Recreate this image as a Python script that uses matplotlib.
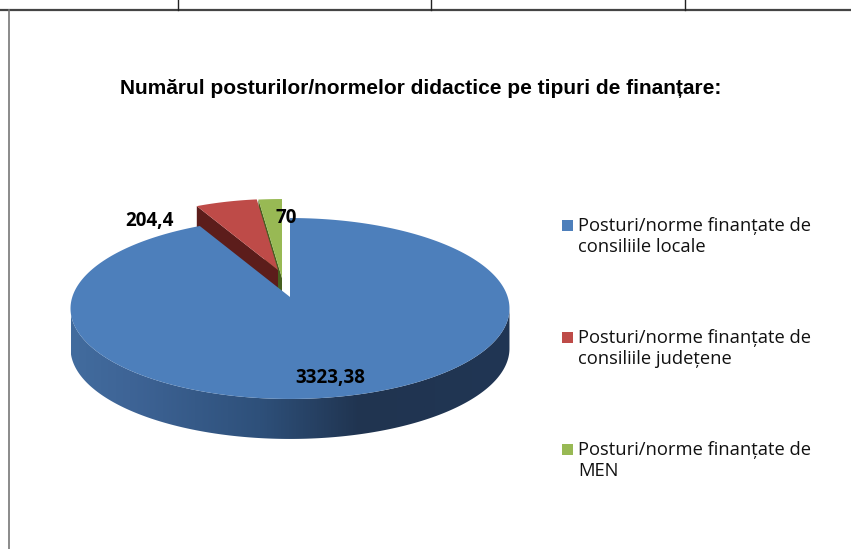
import numpy as np
import matplotlib
matplotlib.use('Agg')
import matplotlib.pyplot as plt
from matplotlib.patches import Polygon, Rectangle

# --- Data ---
title = "Numărul posturilor/normelor didactice pe tipuri de finanțare:"
values = [3323.38, 204.4, 70]
value_labels = ["3323,38", "204,4", "70"]
legend_labels = ["Posturi/norme finanțate de\nconsiliile locale",
                 "Posturi/norme finanțate de\nconsiliile județene",
                 "Posturi/norme finanțate de\nMEN"]

# --- Style ---
face_colors = ['#4D7FBB', '#BE4B48', '#98B954']
wall_colors = [None, '#5C1D1B', '#46601F']
tips = [(290, 297), (278, 270), (282, 278)]   # pixel position of each slice tip
scales = [1.0, 0.9, 1.0]
label_pos = [(330, 378), (149, 221), (286, 218)]
legend_y = [225, 337, 449]
DEPTH = 40
K, A, B = 0.127, 89, 217.7   # perspective of the disc

fig = plt.figure(figsize=(8.51, 5.49), dpi=100)
ax = fig.add_axes([0, 0, 1, 1])
ax.axis('off')


def rim(theta, tip, scale=1.0):
    """Rim points of a slice, theta in degrees clockwise from the top."""
    t = np.radians(theta)
    u, v = np.sin(t), np.cos(t)
    w = 1 + K * v
    return np.column_stack((tip[0] + scale * B * u / w, tip[1] - scale * A * v / w))


# slice angles from the values
fracs = np.array(values) / sum(values)
ends = np.cumsum(fracs) * 360
starts = np.concatenate(([0], ends[:-1]))

# back slices first, the blue one goes over their walls
for i in [2, 1]:
    arc = np.linspace(starts[i], ends[i], 30)
    pts = rim(arc, tips[i], scales[i])
    outer = pts[0]
    wall = [tips[i], outer, outer + [0, DEPTH], np.array(tips[i]) + [0, DEPTH]]
    ax.add_patch(Polygon(wall, closed=True, fc=wall_colors[i], ec='none'))
    ax.add_patch(Polygon(np.vstack(([tips[i]], pts)), closed=True, fc=face_colors[i], ec='none'))

# blue side, only the front of the rim, shaded from left to right
arc = np.linspace(starts[0], ends[0], 800)
pts = rim(arc, tips[0])
front = pts[np.argmax(pts[:, 0]):np.argmin(pts[:, 0]) + 1]
side = Polygon(np.vstack((front, front[::-1] + [0, DEPTH])), closed=True, fc='none', ec='none')
ax.add_patch(side)
grad_x = [71, 130, 260, 360, 510]
grad_rgb = [[66, 62, 46, 32, 32], [108, 100, 80, 52, 54], [158, 150, 122, 80, 84]]
xs = np.linspace(71, 510, 440)
shade = np.dstack([np.interp(xs, grad_x, g) / 255 for g in grad_rgb])
im = ax.imshow(shade, extent=(71, 510, 450, 200), aspect='auto', zorder=1, interpolation='bilinear')
im.set_clip_path(side)
ax.add_patch(Polygon(np.vstack(([tips[0]], pts)), closed=True, fc=face_colors[0], ec='none', zorder=2))

# value labels
for txt, (x, y) in zip(value_labels, label_pos):
    ax.text(x, y, txt, ha='center', va='center', fontsize=13.5, fontweight='bold',
            family='Open Sans', color='black', zorder=3)

ax.text(421, 88, title, ha='center', va='center', fontsize=15, fontweight='bold',
        family='Liberation Sans', color='black')

# legend
for lab, col, y in zip(legend_labels, face_colors, legend_y):
    ax.add_patch(Rectangle((562, y - 5.5), 11, 11, fc=col, ec='none'))
    ax.text(578, y - 8, lab, ha='left', va='top', fontsize=13.2, family='Open Sans',
            color='#111111', linespacing=1.18)

# page rules around the chart
ax.plot([0, 851], [10, 10], color='#444444', lw=1.6)
ax.plot([9, 9], [10, 549], color='#777777', lw=1.2)
for x in [177.5, 431, 685]:
    ax.plot([x, x], [0, 10], color='#222222', lw=1.0)

ax.set_xlim(0, 851)
ax.set_ylim(549, 0)
fig.savefig('out.png', dpi=100)
